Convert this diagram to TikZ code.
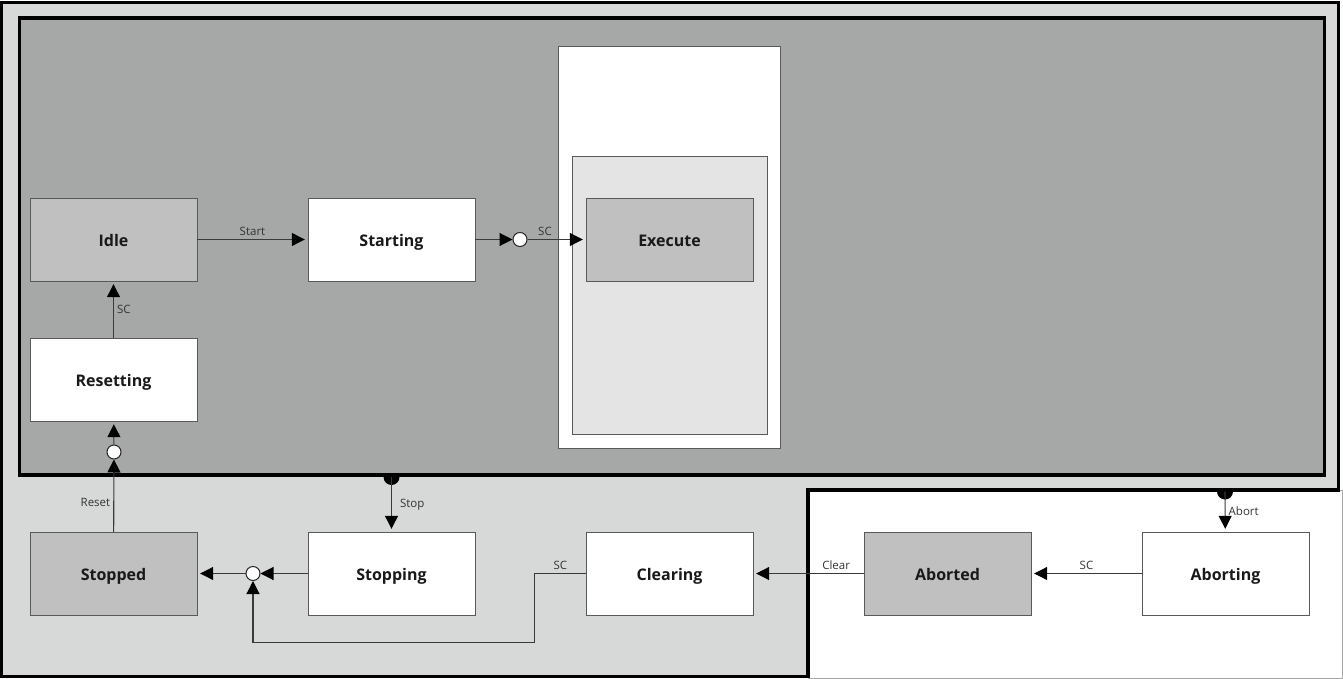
\documentclass[tikz,border=0pt]{standalone}
\usepackage{fontspec}
\setmainfont{Open Sans}
\usetikzlibrary{positioning,arrows.meta,calc}
\definecolor{outergray}{HTML}{D7D9D8}
\definecolor{innergray}{HTML}{A6A8A7}
\definecolor{boxgray}{HTML}{C0C0C0}
\definecolor{lightbox}{HTML}{E4E4E4}
\definecolor{edgegray}{HTML}{3A3A3A}
\tikzstyle{state} = [draw=black!65, rectangle, fill=white, minimum width=167pt, minimum height=83pt, inner sep=0pt, text height=13pt, text depth=0pt, font=\fontsize{16}{19}\selectfont\bfseries, text=black!90]
\tikzstyle{settled} = [state, fill=boxgray]
\tikzstyle{junction} = [draw=black!85, circle, fill=white, minimum size=14pt, inner sep=0pt, line width=1pt]
\tikzstyle{line} = [draw=edgegray, line width=1.1pt, -{Triangle[length=13pt,width=13pt,color=black]}]
\tikzstyle{lbl} = [font=\fontsize{11.5}{13}\selectfont, text=black!80, inner sep=3pt]
\pgfdeclarelayer{background}
\pgfsetlayers{background,main}

\begin{document}
\begin{tikzpicture}[x=1pt, y=-1pt, node distance=278pt]
    \useasboundingbox (0,0) rectangle (1343,679);

    % Place nodes
    \node [settled] (idle) at (113.5,239.5) {Idle};
    \node [state, right of=idle] (starting) {Starting};
    \node [settled, right of=starting] (execute) {Execute};
    \node [state, below of=idle, node distance=140pt] (resetting) {Resetting};
    \node [settled, below of=resetting, node distance=194pt] (stopped) {Stopped};
    \node [state, right of=stopped] (stopping) {Stopping};
    \node [state, right of=stopping] (clearing) {Clearing};
    \node [settled, right of=clearing] (aborted) {Aborted};
    \node [state, right of=aborted] (aborting) {Aborting};
    \node [junction] (j-exec) at (520,239.5) {};
    \node [junction] (j-reset) at (114,452) {};
    \node [junction] (j-stop) at (253,573.5) {};
    \coordinate (stop-src) at (391.5,477);
    \coordinate (abort-src) at (1225,491.5);
    \fill ($(stop-src)+(8,0)$) arc (0:180:8) -- cycle;
    \fill ($(abort-src)+(8,0)$) arc (0:180:8) -- cycle;

    % Draw edges
    \path [line, shorten >=3pt] (idle) -- node[lbl, above] {Start} (starting);
    \path [line] (starting) -- (j-exec);
    \path [line, shorten >=3pt] (j-exec) -- node[lbl, above, pos=0.3] {SC} (execute);
    \path [line, shorten >=3pt] (resetting) -- node[lbl, right] {SC} (idle);
    \path [line] (stopped) -- node[lbl, left, pos=0.4] {Reset} (j-reset);
    \path [line, shorten >=3pt] (j-reset) -- (resetting);
    \path [line, shorten >=3pt] (stop-src) -- node[lbl, right, xshift=5pt] {Stop} (stopping);
    \path [line, shorten >=3pt] (abort-src) -- node[lbl, right] {Abort} (aborting);
    \path [line] (stopping) -- (j-stop);
    \path [line, shorten >=3pt] (j-stop) -- (stopped);
    \path [line] (clearing.west) -- node[lbl, above] {SC} ++(-51,0) -- ++(0,69) -| (j-stop);
    \path [line, shorten >=3pt] (aborted) -- node[lbl, above, pos=0.25] {Clear} (clearing);
    \path [line, shorten >=3pt] (aborting) -- node[lbl, above] {SC} (aborted);

    % The nested regions go behind the states
    \begin{pgfonlayer}{background}
      \path[fill=white, draw=black!35, line width=1pt] (808,490) rectangle (1342.5,678.5);
      \path[fill=outergray, draw=black, line width=3.5pt]
        (1.5,2.5) -- (1338.7,2.5) -- (1338.7,490) -- (808,490) -- (808,676.5) -- (1.5,676.5) -- cycle;
      \path[fill=innergray, draw=black, line width=3.5pt] (19.5,18) rectangle (1324.7,475);
      % Execute sits in two boxes
      \path[fill=white, draw=black!65] (558,46) rectangle (780,448);
      \path[fill=lightbox, draw=black!65] (572,156) rectangle (767,434);
    \end{pgfonlayer}
\end{tikzpicture}
\end{document}
